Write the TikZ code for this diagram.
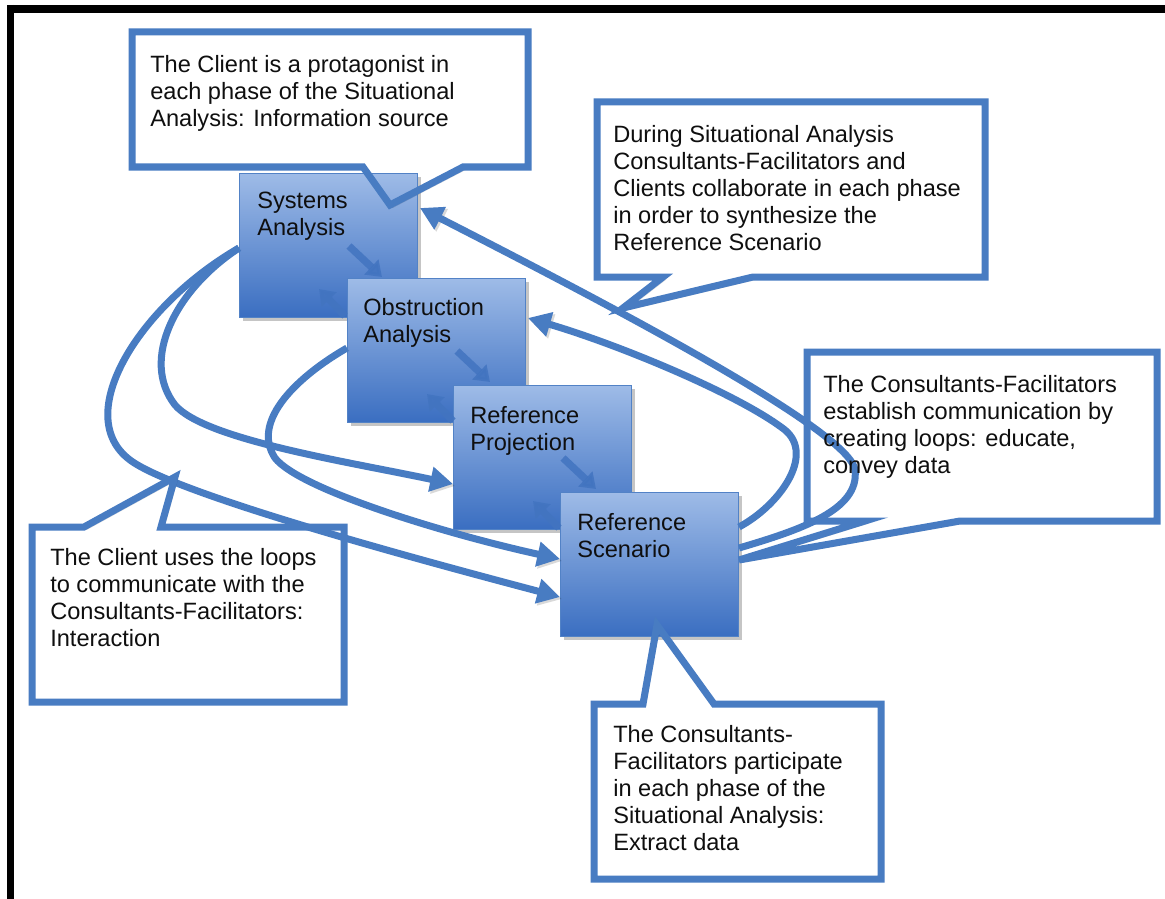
\documentclass[tikz,border=0pt]{standalone}
\usepackage{fontspec}
\setmainfont{Liberation Sans}
\usetikzlibrary{arrows.meta,shadows,calc}
\definecolor{lb}{RGB}{72,124,194}
\definecolor{boxtop}{RGB}{158,187,231}
\definecolor{boxbot}{RGB}{58,110,193}
\definecolor{boxedge}{RGB}{82,130,198}
\definecolor{minorc}{RGB}{66,116,192}
\definecolor{txtc}{RGB}{15,15,15}
\tikzset{
  phasebox/.style={draw=boxedge, line width=0.75pt, top color=boxtop, bottom color=boxbot,
    minimum width=133.5pt, minimum height=108pt, anchor=north west, inner sep=0pt,
    drop shadow={shadow xshift=2.5pt, shadow yshift=-2.5pt, opacity=0.45}},
  curvearrow/.style={draw=lb, line width=5.25pt, -{Triangle[length=17pt,width=18pt]},
    preaction={draw=black, opacity=0.15, transform canvas={shift={(1.5pt,-1.5pt)}}}},
  minorarrow/.style={draw=minorc, line width=5.5pt, -{Triangle[length=11pt,width=15pt]}, opacity=0.85},
  callout/.style={draw=lb, line width=5.25pt, line join=miter,
    preaction={draw=black, opacity=0.15, transform canvas={shift={(2pt,-2pt)}}}},
  txt/.style={anchor=north west, inner sep=0pt, align=left, text=txtc,
    font=\fontsize{17.7}{20.3}\selectfont},
  frameline/.style={draw=black}
}
\begin{document}
\begin{tikzpicture}[x=0.75pt,y=-0.75pt]
\useasboundingbox (0,0) rectangle (1165,899);
\fill[white] (0,0) rectangle (1165,899);
% frame
\coordinate (ftl) at (7,9);
\coordinate (ftr) at (1165,9);
\coordinate (flt) at (10.5,5);
\coordinate (flb) at (10.5,899);
\draw[frameline, line width=6pt] (ftl) -- (ftr);
\draw[frameline, line width=5.25pt] (flt) -- (flb);

% phase boxes
\node[phasebox] (sa) at (239,173) {};
\node[phasebox] (oa) at (347,278) {};
\node[phasebox] (rp) at (453,385) {};
\node[phasebox] (rs) at (560,492) {};

% small arrows between the phases
\draw[minorarrow] ($(sa.north west)+(110,73)$) -- ($(sa.north west)+(143,104)$);
\draw[minorarrow] ($(sa.north west)+(106,143)$) -- ($(sa.north west)+(80,116)$);
\draw[minorarrow] ($(oa.north west)+(110,73)$) -- ($(oa.north west)+(143,104)$);
\draw[minorarrow] ($(oa.north west)+(106,143)$) -- ($(oa.north west)+(80,116)$);
\draw[minorarrow] ($(rp.north west)+(110,73)$) -- ($(rp.north west)+(143,104)$);
\draw[minorarrow] ($(rp.north west)+(106,143)$) -- ($(rp.north west)+(80,116)$);

% connector end points
\coordinate (saW) at ($(sa.north west)+(0,75)$);
\coordinate (saR) at ($(sa.north east)+(2,35)$);
\coordinate (oaW) at ($(oa.north west)+(0,70)$);
\coordinate (oaR) at ($(oa.north east)+(2,40)$);
\coordinate (rpW) at ($(rp.north west)+(0,99)$);
\coordinate (rsWu) at ($(rs.north west)+(0,67)$);
\coordinate (rsWl) at ($(rs.north west)+(0,105)$);
\coordinate (rsE1) at ($(rs.north east)+(0,35)$);
\coordinate (rsE2) at ($(rs.north east)+(0,56)$);

% loops on the left
\draw[curvearrow] (saW) .. controls (140,305) and (70,415) .. (130,460)
                        .. controls (175,494) and (420,560) .. (rsWl);
\draw[curvearrow] (saW) .. controls (175,290) and (140,360) .. (175,405)
                        .. controls (205,440) and (350,462) .. (rpW);
\draw[curvearrow] (oaW) .. controls (300,375) and (250,420) .. (275,458)
                        .. controls (300,490) and (450,535) .. (rsWu);
% loops on the right
\draw[curvearrow] (rsE1) .. controls (780,505) and (815,455) .. (785,430)
                         .. controls (740,395) and (620,345) .. (oaR);
\draw[curvearrow] (rsE2) .. controls (800,530) and (860,510) .. (855,470)
                         .. controls (850,430) and (600,300) .. (saR);

% callouts
\draw[callout] (132,32) -- (528,32) -- (528,167) -- (463,167) -- (390,205) -- (363,167) -- (132,167) -- cycle;
\draw[callout] (597,102) -- (985,102) -- (985,277) -- (753,277) -- (623,308) -- (663,277) -- (597,277) -- cycle;
\draw[callout] (807,352) -- (1157,352) -- (1157,521) -- (960,521) -- ($(rs.north east)+(0,68)$) -- (865,521) -- (807,521) -- cycle;
\draw[callout] (32,527) -- (84,527) -- (175,477) -- (161,527) -- (344,527) -- (344,702) -- (32,702) -- cycle;
\draw[callout] (594,704) -- (643,704) -- (657,625) -- (714,704) -- (881,704) -- (881,879) -- (594,879) -- cycle;

% texts
\node[txt] (sat) at (257,192) {Systems\\Analysis};
\node[txt] (oat) at (363,298) {Obstruction\\Analysis};
\node[txt] (rpt) at (470,406) {Reference\\Projection};
\node[txt] (rst) at (577,513) {Reference\\Scenario};
\node[txt] (c1t) at (150,55) {The Client is a protagonist in\\each phase of the Situational\\Analysis: Information source};
\node[txt] (c2t) at (613,125) {During Situational Analysis\\Consultants-Facilitators and\\Clients collaborate in each phase\\in order to synthesize the\\Reference Scenario};
\node[txt] (c3t) at (823,375) {The Consultants-Facilitators\\establish communication by\\creating loops: educate,\\convey data};
\node[txt] (c4t) at (50,548) {The Client uses the loops\\to communicate with the\\Consultants-Facilitators:\\Interaction};
\node[txt] (c5t) at (613,725) {The Consultants-\\Facilitators participate\\in each phase of the\\Situational Analysis:\\Extract data};
\end{tikzpicture}
\end{document}
